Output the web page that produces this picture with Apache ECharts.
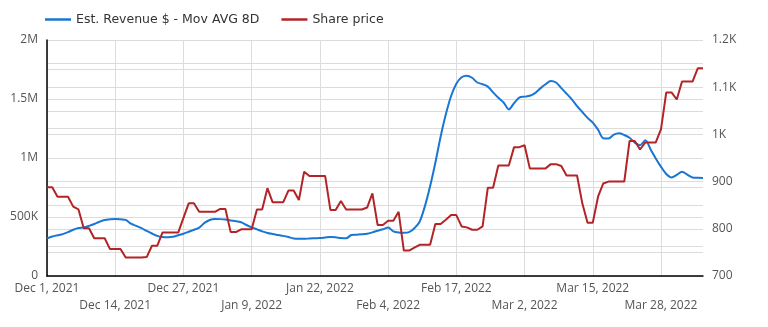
<!DOCTYPE html>
<html>
<head>
<meta charset="utf-8">
<script src="https://cdn.jsdelivr.net/npm/echarts@6/dist/echarts.min.js"></script>
<style>
html,body{margin:0;padding:0;background:#fff;}
#chart{width:768px;height:327px;}
</style>
</head>
<body>
<div id="chart"></div>
<script>
// ---- data ----
const startDate = [2021, 11, 1]; // Dec 1, 2021 (month 0-based)
const dayCount = 126;
const labelStep = 13;
const seriesNames = ['Est. Revenue $ - Mov AVG 8D', 'Share price'];
// Est. Revenue moving average (thousands $), daily
const revenueK = [
  319,335,345,355,372,392,407,412,425,441,
  460,475,480,483,480,475,443,425,405,382,
  360,340,330,328,332,345,358,375,392,410,
  450,475,483,482,478,470,465,455,432,412,
  395,378,365,356,348,340,330,318,315,315,
  318,320,322,326,330,328,322,320,347,350,
  353,358,370,384,396,410,378,368,366,372,
  404,460,590,760,960,1180,1370,1525,1630,1685,
  1698,1680,1640,1625,1605,1556,1510,1470,1412,1465,
  1512,1520,1528,1550,1590,1625,1653,1640,1592,1545,
  1497,1440,1390,1340,1300,1240,1167,1165,1198,1210,
  1195,1172,1130,1108,1150,1075,995,925,864,835,
  856,884,860,835,832,830
];
// Share price ($), daily
const sharePrice = [
  888,888,868,868,868,847,841,801,801,780,
  780,780,757,757,757,739,739,739,739,740,
  764,764,792,792,792,792,823,854,854,836,
  836,836,836,842,842,793,793,799,799,799,
  841,841,886,856,856,856,881,881,861,921,
  912,912,912,912,840,840,859,841,841,841,
  841,845,875,808,808,817,817,836,754,754,
  760,766,766,766,810,810,819,829,829,805,
  803,798,798,805,887,887,934,934,934,973,
  973,977,928,928,928,928,937,937,933,913,
  913,913,854,813,813,868,896,900,900,900,
  900,986,986,968,983,983,983,1011,1089,1089,
  1074,1112,1112,1112,1140,1140
];
const leftTicks = {0:'0', 500000:'500K', 1000000:'1M', 1500000:'1.5M', 2000000:'2M'};
const rightTicks = {700:'700', 800:'800', 900:'900', 1000:'1K', 1100:'1.1K', 1200:'1.2K'};

// ---- build ----
const MONTHS = ['Jan','Feb','Mar','Apr','May','Jun','Jul','Aug','Sep','Oct','Nov','Dec'];
const categories = [];
for (let i = 0; i < dayCount; i++) {
  const d = new Date(Date.UTC(startDate[0], startDate[1], startDate[2] + i));
  categories.push(MONTHS[d.getUTCMonth()] + ' ' + d.getUTCDate() + ', ' + d.getUTCFullYear());
}
const revenue = revenueK.map(v => v * 1000);

const FONT = 'Open Sans';
const tickLabel = {fontSize: 12, color: '#555', fontFamily: FONT};
const chart = echarts.init(document.getElementById('chart'), null, {renderer: 'canvas'});
chart.setOption({
  animation: false,
  textStyle: {fontFamily: FONT},
  color: ['#1976d2', '#b22426'],
  legend: {
    left: 40, top: 8,
    icon: 'rect', itemWidth: 26, itemHeight: 2.5, itemGap: 22,
    textStyle: {fontFamily: 'DejaVu Sans', fontSize: 12.5, color: '#333'},
    data: seriesNames
  },
  grid: {left: 47, right: 65, top: 40, bottom: 51, containLabel: false},
  xAxis: [
    {
      type: 'category',
      data: categories,
      boundaryGap: false,
      axisLine: {show: true, lineStyle: {color: '#000', width: 1.5}},
      axisTick: {show: false},
      axisLabel: Object.assign({
        interval: idx => idx % (2 * labelStep) === 0, margin: 7, hideOverlap: false
      }, tickLabel),
      splitLine: {show: true, interval: idx => idx % labelStep === 0,
        lineStyle: {color: '#dcdcdc', width: 1}}
    },
    {
      type: 'category',
      data: categories,
      boundaryGap: false,
      position: 'bottom',
      axisLine: {show: false},
      axisTick: {show: false},
      axisLabel: Object.assign({
        interval: idx => idx % (2 * labelStep) === labelStep, margin: 24, hideOverlap: false
      }, tickLabel),
      splitLine: {show: false}
    }
  ],
  yAxis: [
    {
      type: 'value', min: 0, max: 2000000, interval: 250000,
      axisLine: {show: true, lineStyle: {color: '#000', width: 1.5}},
      axisTick: {show: false},
      axisLabel: Object.assign({
        margin: 9, formatter: v => (leftTicks[v] !== undefined ? leftTicks[v] : '')
      }, tickLabel),
      splitLine: {show: true, lineStyle: {color: '#dcdcdc', width: 1}}
    },
    {
      type: 'value', min: 700, max: 1200, interval: 50,
      axisLine: {show: false},
      axisTick: {show: false},
      axisLabel: Object.assign({
        margin: 9, formatter: v => (rightTicks[v] !== undefined ? rightTicks[v] : '')
      }, tickLabel),
      splitLine: {show: true, lineStyle: {color: '#dcdcdc', width: 1}}
    }
  ],
  series: [
    {
      name: seriesNames[0], type: 'line', xAxisIndex: 0, yAxisIndex: 0, data: revenue,
      showSymbol: false, smooth: 0.3,
      lineStyle: {width: 2, color: '#1976d2'}
    },
    {
      name: seriesNames[1], type: 'line', xAxisIndex: 0, yAxisIndex: 1, data: sharePrice,
      showSymbol: false,
      lineStyle: {width: 2, color: '#b22426'}
    }
  ]
});
</script>
</body>
</html>
